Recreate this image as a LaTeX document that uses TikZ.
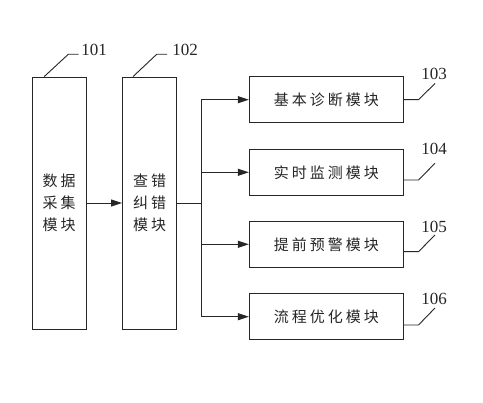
\documentclass[tikz,border=0pt]{standalone}
\usepackage{fontspec}
\setmainfont{Liberation Serif}
\newfontfamily\cjk{Noto Sans CJK SC}
\usetikzlibrary{arrows.meta}
\newcommand{\gp}{\hspace{3pt}}
\begin{document}
\begin{tikzpicture}[x=1pt,y=-1pt,
  ln/.style={draw=black!85, line width=0.9pt},
  arr/.style={ln, -{Triangle[length=11pt,width=7pt]}},
  tall/.style={ln, minimum width=54pt, minimum height=252pt, inner sep=0pt,
    font=\cjk\fontsize{15}{21.7}\selectfont, text=black!85, align=center},
  wide/.style={ln, minimum width=154pt, minimum height=46.5pt, inner sep=0pt,
    font=\cjk\fontsize{15}{16}\selectfont, text=black!85},
  num/.style={font=\fontsize{17}{17}\selectfont, text=black!85, inner sep=0pt}]
\useasboundingbox (0,0) rectangle (483,403);
\fill[white] (0,0) rectangle (483,403);
% tall boxes
\node[tall] (b1) at (59,203) {数\gp 据\\采\gp 集\\模\gp 块};
\node[tall] (b2) at (149.5,203) {查\gp 错\\纠\gp 错\\模\gp 块};
% right boxes
\node[wide] (b3) at (326.3,99.7) {基\gp 本\gp 诊\gp 断\gp 模\gp 块};
\node[wide] (b4) at (326.3,172.3) {实\gp 时\gp 监\gp 测\gp 模\gp 块};
\node[wide] (b5) at (326.3,244.3) {提\gp 前\gp 预\gp 警\gp 模\gp 块};
\node[wide] (b6) at (326.3,316.7) {流\gp 程\gp 优\gp 化\gp 模\gp 块};
% connectors
\draw[arr] (b1.east) -- (b2.west);
\coordinate (t) at (201.5,203);
\draw[ln] (b2.east) -- (t);
\draw[arr] (t) |- (b3.west);
\draw[arr] (t) |- (b4.west);
\draw[arr] (t) |- (b5.west);
\draw[arr] (t) |- (b6.west);
% labels
\node[num] (l1) at (94,50) {101};
\node[num] (l2) at (185,50) {102};
\node[num] (l3) at (434,74) {103};
\node[num] (l4) at (434,149) {104};
\node[num] (l5) at (434,227) {105};
\node[num] (l6) at (434,299) {106};
% leader lines
\coordinate (e1) at (78.5,54.3);
\coordinate (e2) at (167,54.3);
\draw[ln] (b1.north west) ++(12.7,0) -- (68.3,54.3) -- (e1);
\draw[ln] (b2.north west) ++(11,0) -- (156.7,54.3) -- (e2);
\coordinate (e3) at (435,83.5);
\coordinate (e4) at (435,163.3);
\coordinate (e5) at (435,235);
\coordinate (e6) at (435,308);
\draw[ln] (b3.east) -- (418.5,99.7) -- (e3);
\draw[ln] (b4.east |- 0,180) -- (418.5,180) -- (e4);
\draw[ln] (b5.east |- 0,251.7) -- (418.5,251.7) -- (e5);
\draw[ln] (b6.east |- 0,325) -- (418.5,325) -- (e6);
\end{tikzpicture}
\end{document}
